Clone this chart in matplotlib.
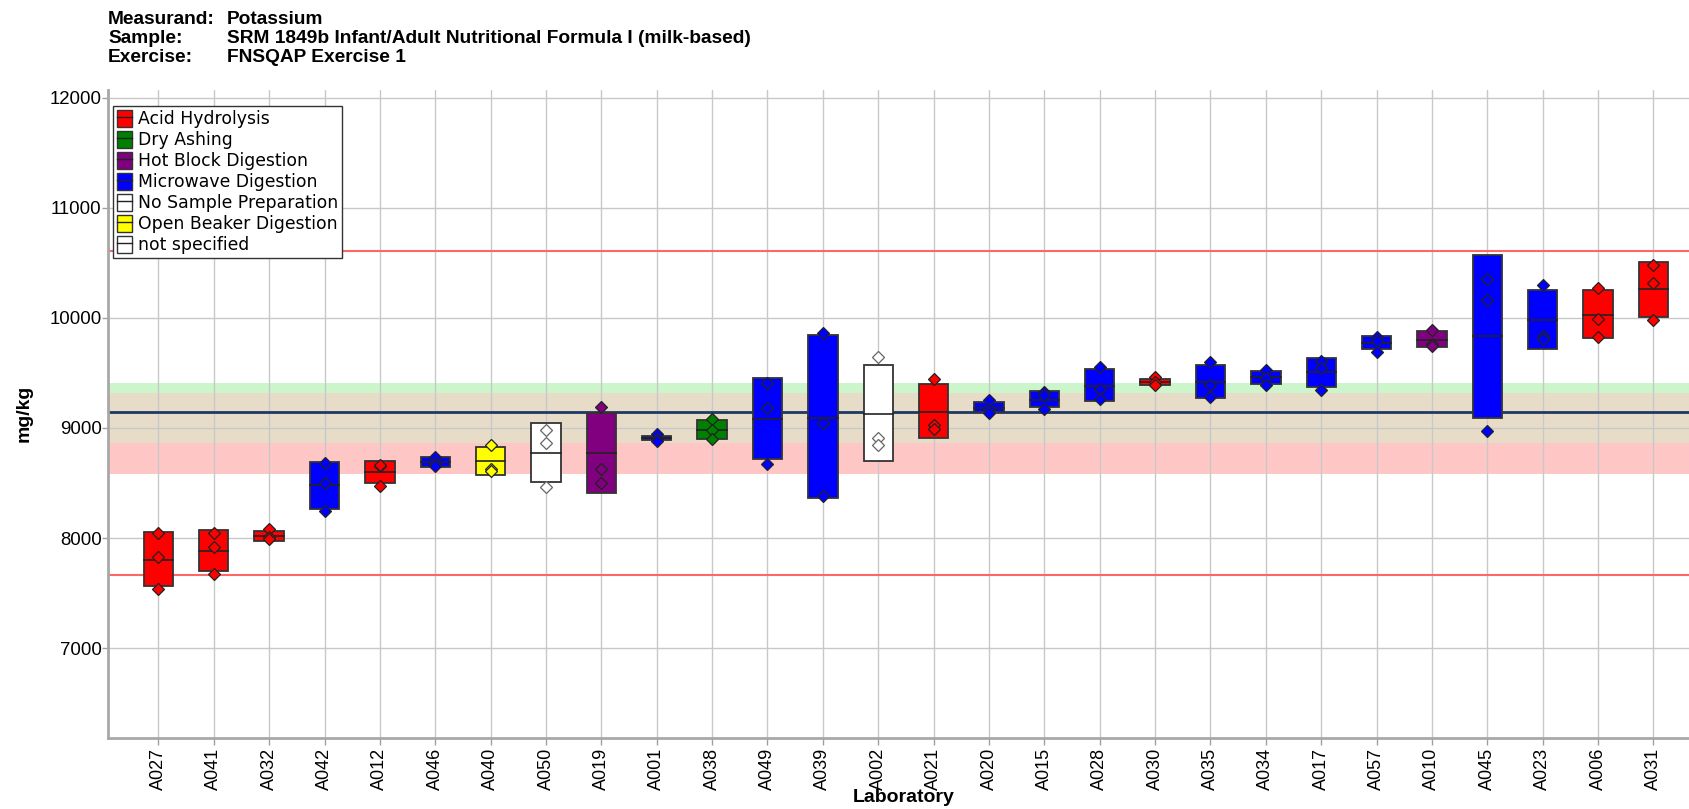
from matplotlib import pyplot as plt
import matplotlib
from matplotlib.patches import Rectangle, Patch
from matplotlib.lines import Line2D

matplotlib.use("Agg")

labs = ["A027", "A041", "A032", "A042", "A012", "A046", "A040", "A050", "A019", "A001",
        "A038", "A049", "A039", "A002", "A021", "A020", "A015", "A028", "A030", "A035",
        "A034", "A017", "A057", "A010", "A045", "A023", "A006", "A031"]
methods = ["Acid Hydrolysis", "Acid Hydrolysis", "Acid Hydrolysis", "Microwave Digestion",
           "Acid Hydrolysis", "Microwave Digestion", "Open Beaker Digestion", "No Sample Preparation",
           "Hot Block Digestion", "Microwave Digestion", "Dry Ashing", "Microwave Digestion",
           "Microwave Digestion", "No Sample Preparation", "Acid Hydrolysis", "Microwave Digestion",
           "Microwave Digestion", "Microwave Digestion", "Acid Hydrolysis", "Microwave Digestion",
           "Microwave Digestion", "Microwave Digestion", "Microwave Digestion", "Hot Block Digestion",
           "Microwave Digestion", "Microwave Digestion", "Acid Hydrolysis", "Acid Hydrolysis"]
box_lo = [7564, 7703, 7973, 8267, 8503, 8642, 8570, 8506, 8412, 8888, 8897, 8715, 8361, 8700,
          8906, 9142, 9191, 9245, 9394, 9273, 9403, 9376, 9715, 9733, 9091, 9715, 9815, 10012]
box_hi = [8058, 8076, 8067, 8688, 8697, 8733, 8824, 9045, 9136, 8927, 9073, 9458, 9842, 9570,
          9403, 9239, 9339, 9539, 9448, 9576, 9521, 9633, 9833, 9879, 10573, 10252, 10252, 10506]
means = [7800, 7885, 8021, 8479, 8597, 8688, 8697, 8770, 8770, 8909, 8985, 9082, 9091, 9127,
         9145, 9185, 9258, 9385, 9421, 9421, 9464, 9506, 9770, 9800, 9833, 9982, 10024, 10261]
rep1 = [8043, 8048, 8079, 8685, 8652, 8736, 8845, 8982, 9191, 8942, 9085, 9406, 9864, 9642,
        9442, 9252, 9330, 9552, 9461, 9597, 9527, 9609, 9824, 9891, 10355, 10297, 10273, 10482]
rep2 = [7830, 7921, 8010, 8497, 8663, 8680, 8624, 8861, 8624, 8900, 8982, 9182, 9045, 8906,
        9027, 9175, 9300, 9352, 9421, 9394, 9458, 9548, 9794, 9764, 10161, 9839, 9988, 10318]
rep3 = [7539, 7673, 7988, 8248, 8476, 8652, 8612, 8461, 8497, 8885, 8897, 8670, 8382, 8845,
        8991, 9133, 9170, 9261, 9388, 9282, 9388, 9345, 9694, 9748, 8973, 9809, 9824, 9979]

legend_methods = ["Acid Hydrolysis", "Dry Ashing", "Hot Block Digestion", "Microwave Digestion",
                  "No Sample Preparation", "Open Beaker Digestion", "not specified"]
method_colors = {
    "Acid Hydrolysis": "#ff0000",
    "Dry Ashing": "#008000",
    "Hot Block Digestion": "#800080",
    "Microwave Digestion": "#0000ff",
    "No Sample Preparation": "#ffffff",
    "Open Beaker Digestion": "#ffff00",
    "not specified": "#ffffff",
}

assigned = 9145
red_lo, red_hi = 7660, 10607
green_band = (8861, 9406)
pink_band = (8582, 9315)

header = [("Measurand:", "Potassium"),
          ("Sample:", "SRM 1849b Infant/Adult Nutritional Formula I (milk-based)"),
          ("Exercise:", "FNSQAP Exercise 1")]

plt.rcParams["font.family"] = ["Liberation Sans", "DejaVu Sans"]

fig = plt.figure(figsize=(16.9, 8.09), dpi=100)
ax = fig.add_axes([108 / 1690, 1 - 738 / 809, 1 - 108 / 1690, (738 - 89.5) / 809])

# bands: green only, overlap (tan), pink only
ax.axhspan(pink_band[1], green_band[1], color="#ccf5cc", lw=0, zorder=0.1)
ax.axhspan(green_band[0], pink_band[1], color="#e6dcc8", lw=0, zorder=0.1)
ax.axhspan(pink_band[0], green_band[0], color="#ffc6c6", lw=0, zorder=0.1)

ax.axhline(red_lo, color="#ff6666", lw=1.5, zorder=1)
ax.axhline(red_hi, color="#ff6666", lw=1.5, zorder=1)
ax.axhline(assigned, color="#1f3864", lw=2, zorder=1)

w = 0.53
for i, lab in enumerate(labs):
    c = method_colors[methods[i]]
    rect = Rectangle((i - w / 2, box_lo[i]), w, box_hi[i] - box_lo[i], facecolor=c,
                     edgecolor="#333333", lw=1.3, zorder=2)
    ax.add_patch(rect)
    ax.plot([i - w / 2, i + w / 2], [means[i], means[i]], color="#222222", lw=1.2, zorder=2.5)
    edge = "#666666" if c == "#ffffff" else "#222222"
    ax.plot([i, i, i], [rep1[i], rep2[i], rep3[i]], ls="none", marker="D", ms=6.2,
            markerfacecolor=c, markeredgecolor=edge, markeredgewidth=0.9, zorder=3)

ax.set_xlim(-0.91, 27.66)
ax.set_ylim(6182, 12077)
ax.set_xticks(range(len(labs)))
ax.set_xticklabels(labs, rotation=90, fontsize=13)
ax.set_yticks(range(7000, 12001, 1000))
ax.set_yticklabels([str(v) for v in range(7000, 12001, 1000)], fontsize=13.4)
ax.tick_params(axis="x", length=5, color="#a0a0a0", width=1, pad=2)
ax.tick_params(axis="y", length=4, color="#a0a0a0", width=1, pad=0.5)
ax.grid(True, color="#c8c8c8", lw=1)
ax.set_axisbelow(True)
for s in ["top", "right"]:
    ax.spines[s].set_visible(False)
for s in ["left", "bottom"]:
    ax.spines[s].set_color("#a8a8a8")
    ax.spines[s].set_linewidth(2)

fig.text(24 / 1690, 1 - 413 / 809, "mg/kg", fontsize=14, fontweight="bold", rotation=90,
         ha="center", va="center")
fig.text(904 / 1690, 1 - 798 / 809, "Laboratory", fontsize=14, fontweight="bold",
         ha="center", va="center")

handles = [(Patch(facecolor=method_colors[m], edgecolor="#333333", lw=1),
            Line2D([], [], color="#222222", lw=1)) for m in legend_methods]
leg = ax.legend(handles, legend_methods, loc="upper left", bbox_to_anchor=(0.003, 0.9746),
                borderaxespad=0, handlelength=0.85, handleheight=1.1,
                handletextpad=0.35, labelspacing=0.16, borderpad=0.25, fancybox=False,
                framealpha=1, edgecolor="#333333", prop={"family": "DejaVu Sans", "size": 12.45})
leg.get_frame().set_linewidth(1)
leg.set_zorder(5)

for k, (name, val) in enumerate(header):
    y = 1 - (24 + 19 * k) / 809
    fig.text(108 / 1690, y, name, fontsize=13.75, fontweight="bold", va="baseline")
    fig.text(227 / 1690, y, val, fontsize=13.75, fontweight="bold", va="baseline")

fig.savefig("out.png", dpi=100)
